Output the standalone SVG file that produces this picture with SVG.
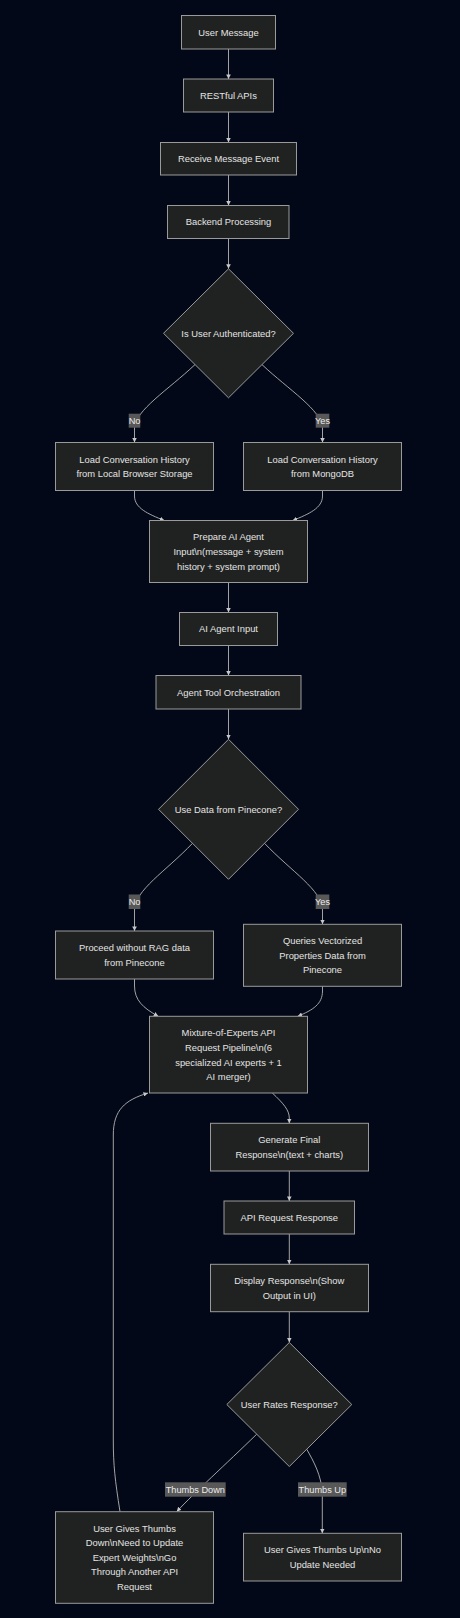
<svg xmlns="http://www.w3.org/2000/svg" width="460" height="1618" viewBox="0 0 460 1618">
<style>
.bg{fill:#020817}
.node rect,.node polygon{fill:#202221;stroke:#9a9a9a;stroke-width:1}
.node text{font-family:"Liberation Sans",Arial,sans-serif;font-size:9.4px;fill:#e4e4e4;text-anchor:middle}
.edges path{fill:none;stroke:#b4b4b4;stroke-width:0.9;marker-end:url(#arr)}
.lbl rect{fill:#585858}
.lbl text{font-family:"Liberation Sans",Arial,sans-serif;font-size:9.2px;fill:#ececec;text-anchor:middle}
</style>
<defs>
<marker id="arr" viewBox="0 0 10 10" refX="10" refY="5" markerUnits="userSpaceOnUse" markerWidth="4.6" markerHeight="4.6" orient="auto">
<path d="M0,0 L10,5 L0,10 z" fill="#c8c8c8"/>
</marker>
</defs>
<rect class="bg" x="0" y="0" width="460" height="1618"/>

<g id="connectors" class="edges">
<path d="M228.5,49 L228.5,79"/>
<path d="M228.5,112 L228.5,142.5"/>
<path d="M228.5,175 L228.5,205.5"/>
<path d="M228.5,238.5 L228.5,268.8"/>
<path d="M195,364.6 C168,390 135.5,410 134.5,428 L134.5,442.5"/>
<path d="M262,364.6 C289,390 321.5,410 322.5,428 L322.5,442.5"/>
<path d="M134.5,490.5 L134.5,496 C134.5,508 148,514 164.3,520.5"/>
<path d="M322.5,490.5 L322.5,496 C322.5,508 309,514 292.7,520.5"/>
<path d="M228.5,582.5 L228.5,612.5"/>
<path d="M228.5,645.5 L228.5,675.5"/>
<path d="M228.5,709 L228.5,739.3"/>
<path d="M192.5,843.3 C165,872 135,890 134.5,910 L134.5,931"/>
<path d="M264.5,843.3 C292,872 322,890 322.5,910 L322.5,924.3"/>
<path d="M134.5,979 L134.5,986 C134.5,1000 143,1008 158.3,1016.3"/>
<path d="M322.5,986.3 L322.5,991 C322.5,1004 313,1010 297.7,1016.3"/>
<path d="M272.3,1093 C283,1103 289.3,1110 289.3,1118 L289.3,1123.3"/>
<path d="M289.3,1171 L289.3,1201"/>
<path d="M289.3,1234 L289.3,1264.3"/>
<path d="M289.3,1311.7 L289.3,1342.5"/>
<path d="M256.7,1434.2 C225,1465 195,1492 176.7,1511.7"/>
<path d="M306.7,1449.2 C314,1462 321,1475 322.3,1492 L322.3,1533.3"/>
<path d="M120,1511.7 C115,1480 113.3,1465 113.3,1440 L113.3,1135 C113.3,1110 125,1100 148,1093"/>
</g>

<g id="edge-labels">
<g class="lbl"><rect x="128.7" y="413.7" width="11.6" height="14"/><text x="134.5" y="424">No</text></g>
<g class="lbl"><rect x="315.7" y="413.7" width="13.6" height="14"/><text x="322.5" y="424">Yes</text></g>
<g class="lbl"><rect x="128.7" y="894.5" width="11.6" height="14.5"/><text x="134.5" y="905">No</text></g>
<g class="lbl"><rect x="315.7" y="894.5" width="13.6" height="14.5"/><text x="322.5" y="905">Yes</text></g>
<g class="lbl"><rect x="165" y="1482.3" width="60.7" height="14.4"/><text x="195.3" y="1492.7">Thumbs Down</text></g>
<g class="lbl"><rect x="298" y="1482.3" width="48.7" height="14.4"/><text x="322.3" y="1492.7">Thumbs Up</text></g>
</g>

<g id="n1" class="node"><rect x="181.5" y="15.5" width="94" height="33.5"/><text x="228.5" y="35.5">User Message</text></g>
<g id="n2" class="node"><rect x="183.5" y="79" width="90" height="33"/><text x="228.5" y="98.7">RESTful APIs</text></g>
<g id="n3" class="node"><rect x="160.5" y="142.5" width="136" height="32.5"/><text x="228.5" y="161.9">Receive Message Event</text></g>
<g id="n4" class="node"><rect x="167.5" y="205.5" width="121.5" height="33"/><text x="228.5" y="225.2">Backend Processing</text></g>
<g id="d1" class="node"><polygon points="228.5,268.8 293.5,333.3 228.5,397.8 163.5,333.3"/><text x="228.5" y="336.5">Is User Authenticated?</text></g>
<g id="n5" class="node"><rect x="55.5" y="442.5" width="158" height="48"/><text x="134.5" y="462.5">Load Conversation History</text><text x="134.5" y="476.7">from Local Browser Storage</text></g>
<g id="n6" class="node"><rect x="243.5" y="442.5" width="158" height="48"/><text x="322.5" y="462.5">Load Conversation History</text><text x="322.5" y="476.7">from MongoDB</text></g>
<g id="n7" class="node"><rect x="149.5" y="520.5" width="158" height="62"/><text x="228.5" y="539.9">Prepare AI Agent</text><text x="228.5" y="554.9">Input\n(message + system</text><text x="228.5" y="569.9">history + system prompt)</text></g>
<g id="n8" class="node"><rect x="179.5" y="612.5" width="98" height="33"/><text x="228.5" y="632.4">AI Agent Input</text></g>
<g id="n9" class="node"><rect x="156" y="675.5" width="145" height="33.5"/><text x="228.5" y="695.5">Agent Tool Orchestration</text></g>
<g id="d2" class="node"><polygon points="228.5,739.3 298.5,809.3 228.5,879.3 158.5,809.3"/><text x="228.5" y="812.5">Use Data from Pinecone?</text></g>
<g id="n10" class="node"><rect x="55.5" y="931" width="158" height="48"/><text x="134.5" y="950.9">Proceed without RAG data</text><text x="134.5" y="965.9">from Pinecone</text></g>
<g id="n11" class="node"><rect x="243.5" y="924.3" width="158" height="62"/><text x="322.5" y="943.9">Queries Vectorized</text><text x="322.5" y="958.9">Properties Data from</text><text x="322.5" y="972.9">Pinecone</text></g>
<g id="n12" class="node"><rect x="149.5" y="1016.3" width="158" height="76.7"/><text x="228.5" y="1035.9">Mixture-of-Experts API</text><text x="228.5" y="1050.9">Request Pipeline\n(6</text><text x="228.5" y="1065.9">specialized AI experts + 1</text><text x="228.5" y="1079.9">AI merger)</text></g>
<g id="n13" class="node"><rect x="210.5" y="1123.3" width="158" height="47.7"/><text x="289.3" y="1142.9">Generate Final</text><text x="289.3" y="1157.9">Response\n(text + charts)</text></g>
<g id="n14" class="node"><rect x="224" y="1201" width="130.5" height="33"/><text x="289.3" y="1220.9">API Request Response</text></g>
<g id="n15" class="node"><rect x="210.5" y="1264.3" width="158" height="47.4"/><text x="289.3" y="1283.9">Display Response\n(Show</text><text x="289.3" y="1298.9">Output in UI)</text></g>
<g id="d3" class="node"><polygon points="289.3,1342.5 351.8,1404.5 289.3,1466.5 226.8,1404.5"/><text x="289.3" y="1407.5">User Rates Response?</text></g>
<g id="n16" class="node"><rect x="55.5" y="1511.7" width="158" height="91.6"/><text x="134.5" y="1531.9">User Gives Thumbs</text><text x="134.5" y="1545.9">Down\nNeed to Update</text><text x="134.5" y="1560.9">Expert Weights\nGo</text><text x="134.5" y="1574.9">Through Another API</text><text x="134.5" y="1589.9">Request</text></g>
<g id="n17" class="node"><rect x="243.5" y="1533.3" width="158" height="47.7"/><text x="322.5" y="1552.9">User Gives Thumbs Up\nNo</text><text x="322.5" y="1567.9">Update Needed</text></g>
</svg>
